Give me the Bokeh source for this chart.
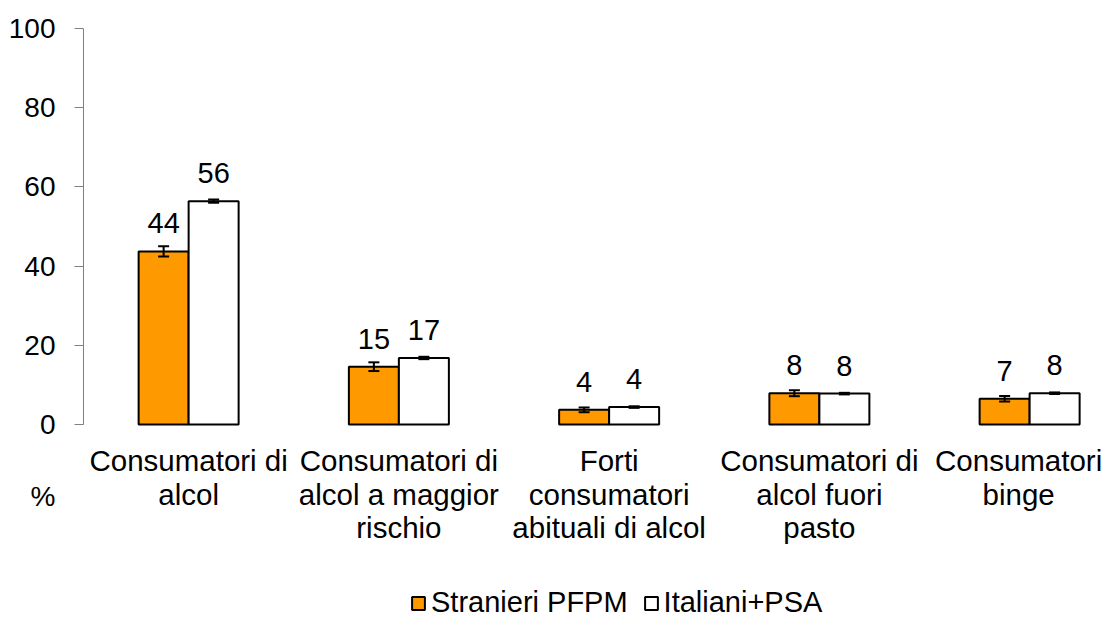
from bokeh.plotting import figure
from bokeh.models import (ColumnDataSource, Range1d, FixedTicker, Whisker, TeeHead,
                          Legend, LegendItem)
from bokeh.core.properties import value
from bokeh.embed import file_html
from bokeh.resources import INLINE

# ---------------- data ----------------
categories = [
    "Consumatori di\nalcol",
    "Consumatori di\nalcol a maggior\nrischio",
    "Forti\nconsumatori\nabituali di alcol",
    "Consumatori di\nalcol fuori\npasto",
    "Consumatori\nbinge",
]
series_names = ["Stranieri PFPM", "Italiani+PSA"]
stranieri = [43.7, 14.6, 3.7, 7.9, 6.5]
italiani = [56.4, 16.8, 4.4, 7.8, 7.9]
stranieri_err = [1.3, 1.1, 0.6, 0.75, 0.7]
italiani_err = [0.4, 0.3, 0.2, 0.2, 0.2]
stranieri_labels = ["44", "15", "4", "8", "7"]
italiani_labels = ["56", "17", "4", "8", "8"]
y_ticks = [0, 20, 40, 60, 80, 100]
y_title = "%"

# ---------------- layout ----------------
FONT = "Liberation Sans"
W, H = 1102, 619
LEFT = 83
CAT_PX = 210.25
PX_PER_UNIT = 3.96
Y0_PX = 424  # pixel row (from top of figure) of y = 0
frame_w = W - LEFT
x_end = -0.5 + frame_w / CAT_PX
y_top = Y0_PX / PX_PER_UNIT
y_bot = -(H - Y0_PX) / PX_PER_UNIT
bar_w = 50 / CAT_PX
off = bar_w / 2

p = figure(width=W, height=H, output_backend="svg", toolbar_location=None,
           x_range=Range1d(-0.5, x_end), y_range=Range1d(y_bot, y_top),
           min_border_left=LEFT, min_border_right=0, min_border_top=0,
           min_border_bottom=0)
p.frame_width = frame_w
p.frame_height = H
p.xaxis.visible = False
p.xgrid.visible = False
p.ygrid.visible = False
p.outline_line_color = None
p.background_fill_color = "white"
p.border_fill_color = "white"

ax = p.yaxis[0]
ax.ticker = FixedTicker(ticks=y_ticks)
ax.bounds = (0, 100)
ax.axis_line_color = "#808080"
ax.axis_line_width = 1
ax.major_tick_line_color = "#808080"
ax.major_tick_out = 9
ax.major_tick_in = 0
ax.minor_tick_line_color = None
ax.major_label_text_font = FONT
ax.major_label_text_font_size = "28px"
ax.major_label_text_color = "black"
ax.major_label_standoff = 19
ax.major_label_text_line_height = 1.16
# the "%" title sits two lines under the "0" tick label, as in the original
ax.major_label_overrides = {0: " \n \n0\n \n" + y_title}

idx = list(range(len(categories)))
src_s = ColumnDataSource(dict(
    x=[i - off for i in idx], top=stranieri,
    upper=[v + e for v, e in zip(stranieri, stranieri_err)],
    lower=[v - e for v, e in zip(stranieri, stranieri_err)],
    label=stranieri_labels))
src_i = ColumnDataSource(dict(
    x=[i + off for i in idx], top=italiani,
    upper=[v + e for v, e in zip(italiani, italiani_err)],
    lower=[v - e for v, e in zip(italiani, italiani_err)],
    label=italiani_labels))

r_s = p.vbar(x="x", top="top", bottom=0, width=bar_w, source=src_s,
             fill_color="#FF9900", line_color="black", line_width=2)
r_i = p.vbar(x="x", top="top", bottom=0, width=bar_w, source=src_i,
             fill_color="white", line_color="black", line_width=2)

for src in (src_s, src_i):
    w = Whisker(base="x", upper="upper", lower="lower", source=src,
                line_color="black", line_width=2, level="overlay",
                upper_head=TeeHead(size=11, line_width=2, line_color="black"),
                lower_head=TeeHead(size=11, line_width=2, line_color="black"))
    p.add_layout(w)
    p.text(x="x", y="top", text="label", source=src, y_offset=-28,
           text_align="center", text_baseline="middle",
           text_font=value(FONT), text_font_size="29px", text_color="black")

# category labels (multi-line)
cx, cy, ct, coff, cxo = [], [], [], [], []
LINE_OFFS = [36, 70, 103]
for i, c in enumerate(categories):
    for j, line in enumerate(c.split("\n")):
        cx.append(i)
        cy.append(0)
        ct.append(line)
        coff.append(LINE_OFFS[j])
        cxo.append(-11 if i == len(categories) - 1 else 0)
p.text(x="x", y="y", text="t", y_offset="o", x_offset="xo",
       source=ColumnDataSource(dict(x=cx, y=cy, t=ct, o=coff, xo=cxo)),
       text_align="center", text_baseline="middle",
       text_font=value(FONT), text_font_size="29.5px", text_color="black")

legend = Legend(items=[LegendItem(label=series_names[0], renderers=[r_s]),
                       LegendItem(label=series_names[1], renderers=[r_i])],
                location=(410 - LEFT, 0), orientation="horizontal",
                glyph_width=16, glyph_height=16, label_standoff=5, spacing=15,
                padding=0, margin=0, border_line_color=None,
                background_fill_alpha=0,
                label_text_font=FONT, label_text_font_size="29px",
                label_text_color="black", label_height=16)
p.add_layout(legend)

open("out.html", "w").write(file_html(p, INLINE))
